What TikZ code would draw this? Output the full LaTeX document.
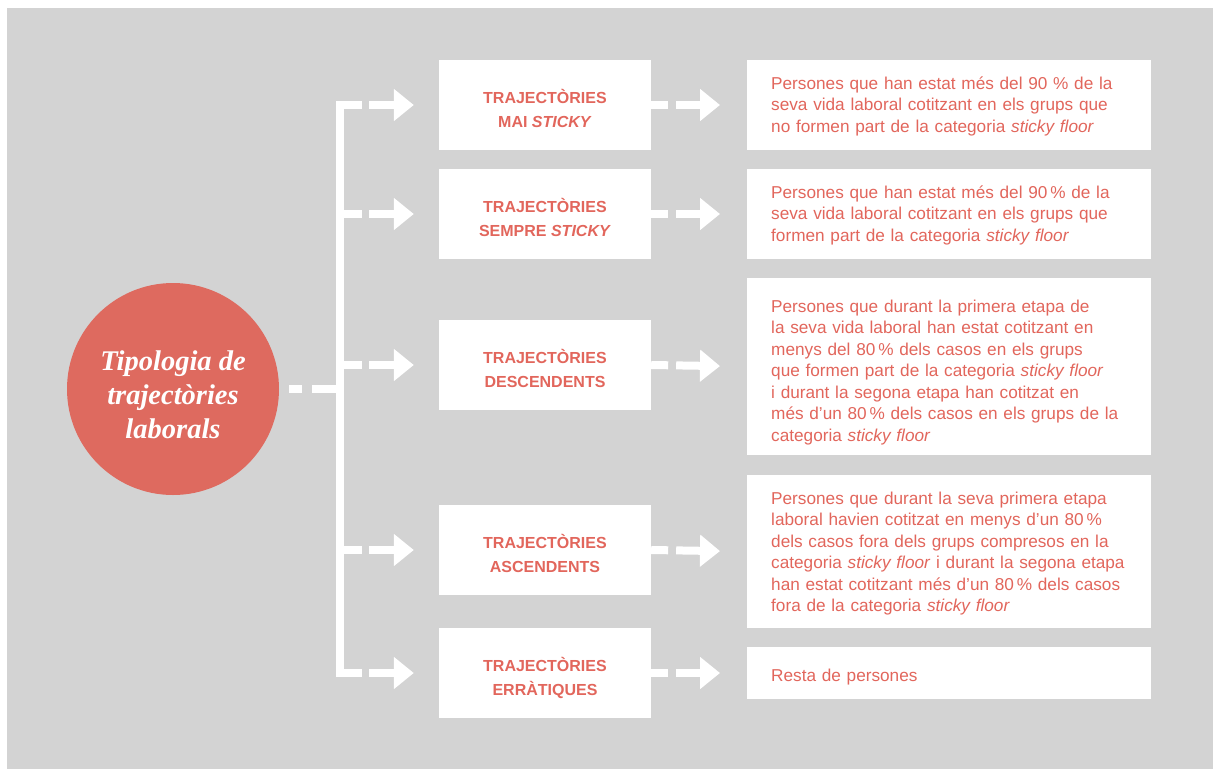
\documentclass[tikz,border=0pt]{standalone}
\usepackage{fontspec}
\setmainfont{Liberation Sans}
\newfontfamily\circfont{Liberation Serif}
\usetikzlibrary{arrows.meta}
\definecolor{bggray}{RGB}{211,211,211}
\definecolor{circred}{RGB}{222,106,95}
\definecolor{txtred}{RGB}{226,102,92}
\tikzset{
  titlebox/.style={rectangle, fill=white, minimum width=212pt, minimum height=90pt, inner sep=0pt},
  titletext/.style={inner sep=0pt, text width=212pt, align=flush center, text=txtred, anchor=base,
    font=\fontsize{16}{24.3}\selectfont\bfseries},
  descbox/.style={rectangle, fill=white, minimum width=404pt, inner sep=0pt, anchor=west},
  desctext/.style={inner sep=0pt, text width=380pt, align=left, text=txtred, anchor=base west,
    font=\fontsize{17.2}{21.5}\selectfont},
  whiteline/.style={draw=white, line width=8pt, line cap=butt, line join=miter},
  leftarrow/.style={whiteline, dash pattern=on 22.5pt off 7pt on 600pt, shorten >=25pt,
    -{Triangle[width=31pt,length=20pt]}},
  rightarrow/.style={whiteline, dash pattern=on 17pt off 8pt on 600pt, shorten >=27pt,
    -{Triangle[width=31pt,length=20pt]}},
}
\begin{document}
\begin{tikzpicture}[x=1pt,y=-1pt]
\useasboundingbox (0,0) rectangle (1213,769);
\fill[bggray] (7,8) rectangle (1213,769);

\node[circle, fill=circred, minimum size=212pt, inner sep=0pt] (root) at (173,389) {};
\node[inner sep=0pt, text width=212pt, align=flush center, text=white, anchor=base,
  font=\circfont\fontsize{28.5}{34}\selectfont\bfseries\itshape] (roottxt) at (173,370)
  {Tipologia de\\trajectòries\\laborals};

% title boxes
\node[titlebox] (t1) at (545,105) {};
\node[titlebox] (t2) at (545,214) {};
\node[titlebox] (t3) at (545,365) {};
\node[titlebox] (t4) at (545,550) {};
\node[titlebox] (t5) at (545,673) {};
\node[titletext] (t1txt) at (545,103.5) {TRAJECTÒRIES\\MAI \textit{STICKY}};
\node[titletext] (t2txt) at (545,212.5) {TRAJECTÒRIES\\SEMPRE \textit{STICKY}};
\node[titletext] (t3txt) at (545,363.5) {TRAJECTÒRIES\\DESCENDENTS};
\node[titletext] (t4txt) at (545,548.5) {TRAJECTÒRIES\\ASCENDENTS};
\node[titletext] (t5txt) at (545,671.5) {TRAJECTÒRIES\\ERRÀTIQUES};

% description boxes
\node[descbox, minimum height=90pt] (d1) at (747,105) {};
\node[descbox, minimum height=90pt] (d2) at (747,214) {};
\node[descbox, minimum height=177pt] (d3) at (747,366.5) {};
\node[descbox, minimum height=153pt] (d4) at (747,551.5) {};
\node[descbox, minimum height=52pt] (d5) at (747,673) {};
\node[desctext] (d1txt) at (771,89)
  {Persones que han estat més del 90 \% de la\\seva vida laboral cotitzant en els grups que\\no formen part de la categoria \textit{sticky floor}};
\node[desctext] (d2txt) at (771,198)
  {Persones que han estat més del 90\,\% de la\\seva vida laboral cotitzant en els grups que\\formen part de la categoria \textit{sticky floor}};
\node[desctext] (d3txt) at (771,312)
  {Persones que durant la primera etapa de\\la seva vida laboral han estat cotitzant en\\menys del 80\,\% dels casos en els grups\\que formen part de la categoria \textit{sticky floor}\\i durant la segona etapa han cotitzat en\\més d’un 80\,\% dels casos en els grups de la\\categoria \textit{sticky floor}};
\node[desctext] (d4txt) at (771,504)
  {Persones que durant la seva primera etapa\\laboral havien cotitzat en menys d’un 80\,\%\\dels casos fora dels grups compresos en la\\categoria \textit{sticky floor} i durant la segona etapa\\han estat cotitzant més d’un 80\,\% dels casos\\fora de la categoria \textit{sticky floor}};
\node[desctext] (d5txt) at (771,681) {Resta de persones};

% bracket
\coordinate (b1) at (339.5,105);
\coordinate (b2) at (339.5,214);
\coordinate (b3) at (339.5,365);
\coordinate (b4) at (339.5,550);
\coordinate (b5) at (339.5,673);
\coordinate (bc) at (339.5,389);
\draw[whiteline] ([xshift=22.5pt]b1) -- (b1) -- (b5) -- ([xshift=22.5pt]b5);

\draw[whiteline, dash pattern=on 0pt off 10pt on 13pt off 10pt on 600pt] (root.east) -- (bc);

\foreach \i in {1,...,5}{
  \draw[leftarrow] (b\i) -- (t\i.west);
  \draw[rightarrow] (t\i.east) -- (d\i.west);
}
\end{tikzpicture}
\end{document}
